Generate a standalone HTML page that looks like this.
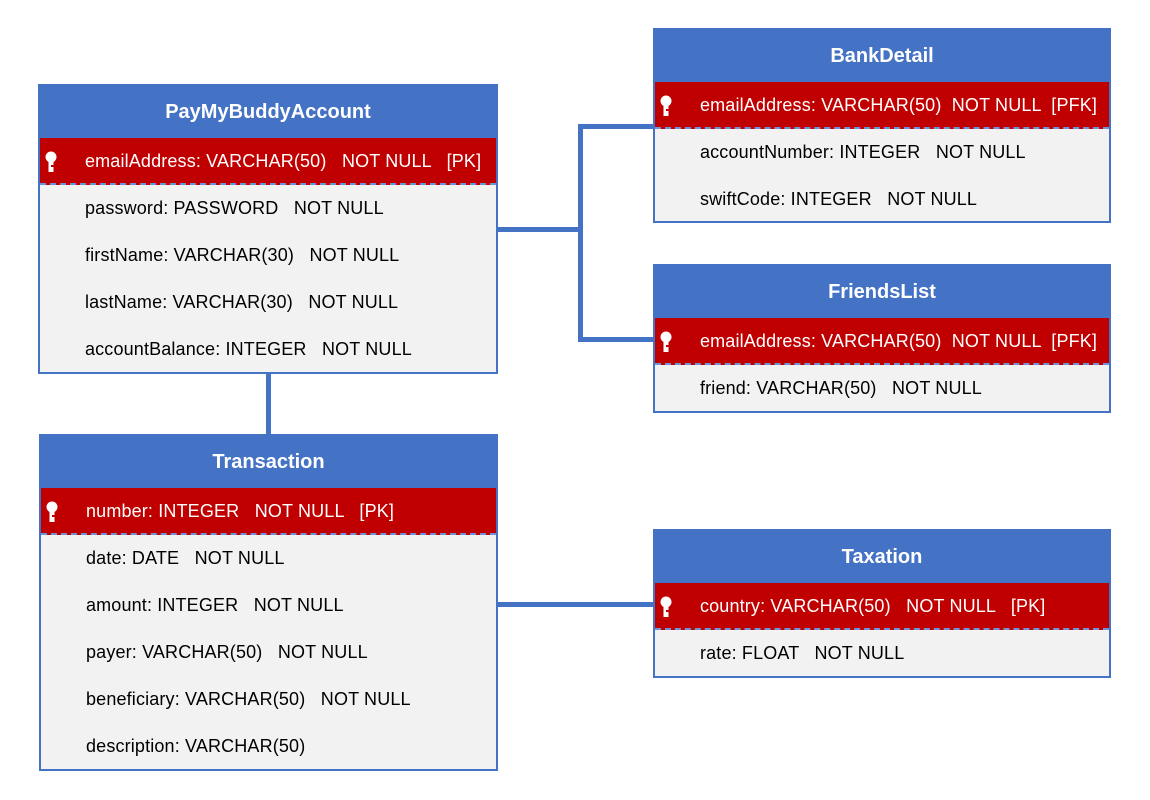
<!DOCTYPE html>
<html><head><meta charset="utf-8"><style>
body{margin:0;width:1150px;height:800px;background:#fff;position:relative;overflow:hidden;font-family:"Liberation Sans",sans-serif}
.t{position:absolute;border:2px solid #4472C4;background:#f2f2f2;box-sizing:border-box}
.h{height:52px;background:#4472C4;color:#fff;font-weight:bold;font-size:20px;text-align:center;line-height:52px}
.pk{height:47px;background:#c00000;color:#fff;position:relative;border-bottom:2px dashed #6f93d6;box-sizing:border-box}
.r{height:47px;position:relative;color:#000}
.tx{position:absolute;left:45px;top:0;line-height:47px;font-size:18px;white-space:pre;letter-spacing:0.15px}
.k{position:absolute;left:5px;top:13px}
.ln{position:absolute;background:#4472C4}
</style></head><body>
<div class="ln" style="left:497px;top:227px;width:85px;height:5px"></div>
<div class="ln" style="left:578px;top:124px;width:5px;height:218px"></div>
<div class="ln" style="left:578px;top:124px;width:78px;height:5px"></div>
<div class="ln" style="left:578px;top:337px;width:78px;height:5px"></div>
<div class="ln" style="left:266px;top:370px;width:5px;height:67px"></div>
<div class="ln" style="left:497px;top:602px;width:158px;height:5px"></div>

<svg width="0" height="0" style="position:absolute"><defs><symbol id="key" viewBox="0 0 12 22"><circle cx="6" cy="6" r="5.5" fill="#fff"/><rect x="3.5" y="9" width="5" height="12" fill="#fff"/><rect x="6" y="14" width="3" height="2" fill="#c00000"/></symbol></defs></svg>

<div class="t" style="left:38px;top:84px;width:460px;height:290px">
<div class="h">PayMyBuddyAccount</div>
<div class="pk"><svg class="k" width="12" height="22"><use href="#key"/></svg><div class="tx">emailAddress: VARCHAR(50)   NOT NULL   [PK]</div></div>
<div class="r"><div class="tx">password: PASSWORD   NOT NULL</div></div>
<div class="r"><div class="tx">firstName: VARCHAR(30)   NOT NULL</div></div>
<div class="r"><div class="tx">lastName: VARCHAR(30)   NOT NULL</div></div>
<div class="r"><div class="tx">accountBalance: INTEGER   NOT NULL</div></div>
</div>

<div class="t" style="left:653px;top:28px;width:458px;height:195px">
<div class="h">BankDetail</div>
<div class="pk"><svg class="k" width="12" height="22"><use href="#key"/></svg><div class="tx">emailAddress: VARCHAR(50)  NOT NULL  [PFK]</div></div>
<div class="r"><div class="tx">accountNumber: INTEGER   NOT NULL</div></div>
<div class="r"><div class="tx">swiftCode: INTEGER   NOT NULL</div></div>
</div>

<div class="t" style="left:653px;top:264px;width:458px;height:149px">
<div class="h">FriendsList</div>
<div class="pk"><svg class="k" width="12" height="22"><use href="#key"/></svg><div class="tx">emailAddress: VARCHAR(50)  NOT NULL  [PFK]</div></div>
<div class="r"><div class="tx">friend: VARCHAR(50)   NOT NULL</div></div>
</div>

<div class="t" style="left:39px;top:434px;width:459px;height:337px">
<div class="h">Transaction</div>
<div class="pk"><svg class="k" width="12" height="22"><use href="#key"/></svg><div class="tx">number: INTEGER   NOT NULL   [PK]</div></div>
<div class="r"><div class="tx">date: DATE   NOT NULL</div></div>
<div class="r"><div class="tx">amount: INTEGER   NOT NULL</div></div>
<div class="r"><div class="tx">payer: VARCHAR(50)   NOT NULL</div></div>
<div class="r"><div class="tx">beneficiary: VARCHAR(50)   NOT NULL</div></div>
<div class="r"><div class="tx">description: VARCHAR(50)</div></div>
</div>

<div class="t" style="left:653px;top:529px;width:458px;height:149px">
<div class="h">Taxation</div>
<div class="pk"><svg class="k" width="12" height="22"><use href="#key"/></svg><div class="tx">country: VARCHAR(50)   NOT NULL   [PK]</div></div>
<div class="r"><div class="tx">rate: FLOAT   NOT NULL</div></div>
</div>
</body></html>
